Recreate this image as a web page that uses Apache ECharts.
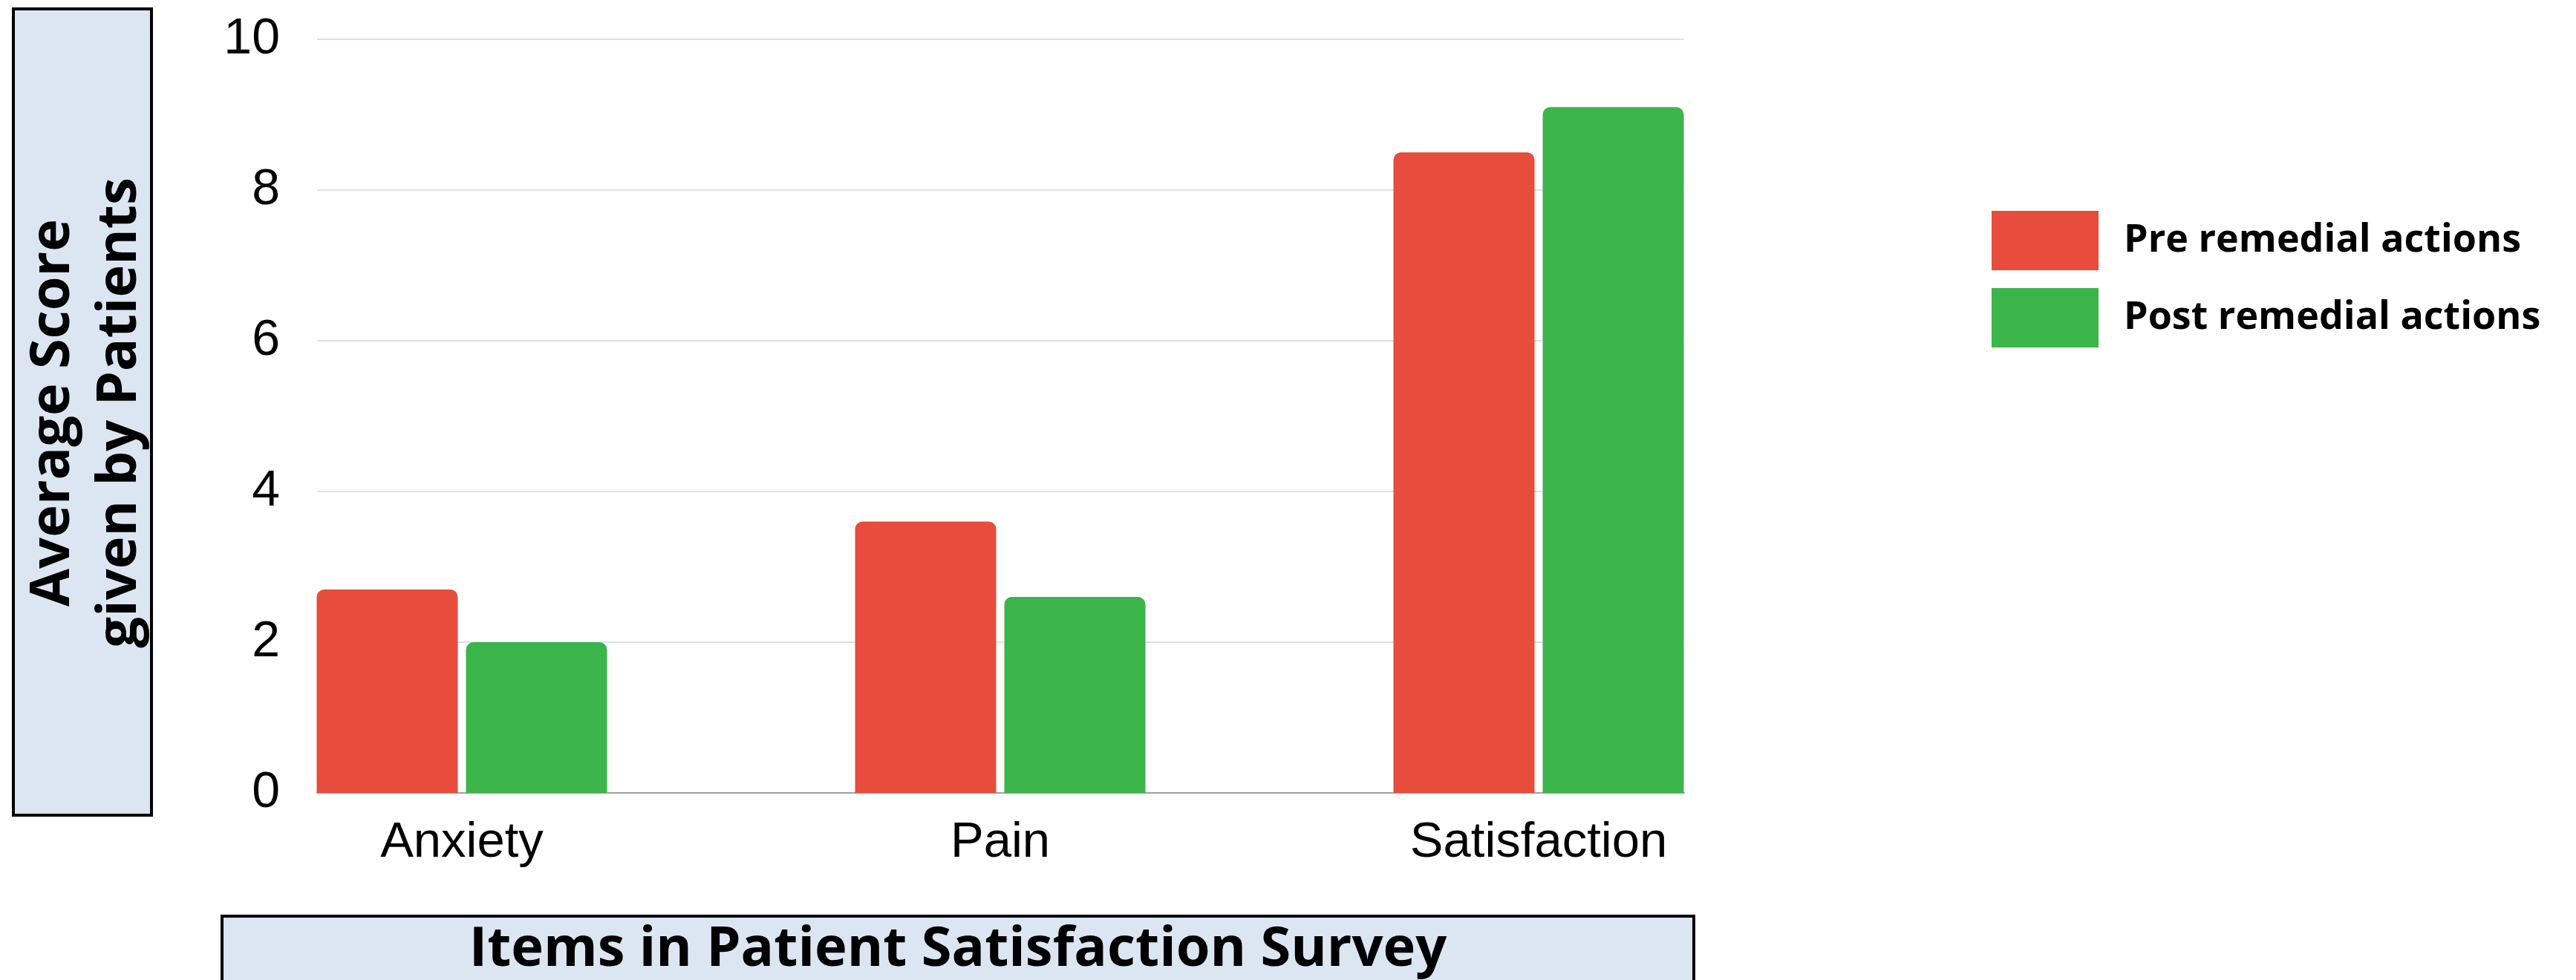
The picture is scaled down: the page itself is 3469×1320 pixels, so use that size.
<!DOCTYPE html>
<html>
<head>
<meta charset="utf-8">
<script src="https://cdn.jsdelivr.net/npm/echarts@6/dist/echarts.min.js"></script>
<style>
    html, body { margin: 0; padding: 0; background: #fff; }
    #chart { width: 3469px; height: 1320px; }
</style>
</head>
<body>
<div id="chart"></div>
<script>
// survey items and average scores
var categories = ['Anxiety', 'Pain', 'Satisfaction'];
var preValues = [2.7, 3.6, 8.5];
var postValues = [2.0, 2.6, 9.1];
var seriesNames = ['Pre remedial actions', 'Post remedial actions'];

var colors = ['#e74c3c', '#3bb54a'];
var boxFill = '#dce6f2';

var chart = echarts.init(document.getElementById('chart'));

var option = {
    animation: false,
    color: colors,
    // grid 0 = frame with split lines, grid 1 = bars
    grid: [
        { left: 427, right: 1201, top: 53, bottom: 252 },
        { left: 259.5, right: 1034.5, top: 53, bottom: 252 }
    ],
    legend: {
        orient: 'vertical',
        left: 2677,
        top: 279,
        itemWidth: 144,
        itemHeight: 80,
        itemGap: 24,
        icon: 'path://M0,0H144V80H0Z',
        textStyle: {
            fontFamily: 'Open Sans',
            fontWeight: 'bold',
            fontSize: 52,
            color: '#000',
            padding: [0, 0, 0, 29]
        },
        data: seriesNames
    },
    xAxis: [
        {
            gridIndex: 0,
            type: 'value',
            min: 0,
            max: 1,
            axisLine: { show: true, lineStyle: { color: '#a0a0a0', width: 2 } },
            axisTick: { show: false },
            axisLabel: { show: false },
            splitLine: { show: false }
        },
        {
            gridIndex: 1,
            type: 'category',
            data: categories,
            axisLine: { show: false },
            axisTick: { show: false },
            axisLabel: {
                margin: 34,
                fontFamily: 'Liberation Sans',
                fontSize: 67,
                color: '#000'
            }
        }
    ],
    yAxis: [
        {
            gridIndex: 0,
            type: 'value',
            min: 0,
            max: 10,
            interval: 2,
            axisLine: { show: false },
            axisTick: { show: false },
            axisLabel: {
                margin: 50,
                fontFamily: 'Liberation Sans',
                fontSize: 68,
                color: '#000'
            },
            splitLine: { lineStyle: { color: '#e0e0e0', width: 2 } }
        },
        {
            gridIndex: 1,
            type: 'value',
            min: 0,
            max: 10,
            show: false,
            splitLine: { show: false }
        }
    ],
    series: [
        {
            name: seriesNames[0],
            type: 'bar',
            xAxisIndex: 1,
            yAxisIndex: 1,
            barWidth: 190,
            barGap: '5.8%',
            itemStyle: { borderRadius: [10, 10, 0, 0] },
            data: preValues
        },
        {
            name: seriesNames[1],
            type: 'bar',
            xAxisIndex: 1,
            yAxisIndex: 1,
            barWidth: 190,
            barGap: '5.8%',
            itemStyle: { borderRadius: [10, 10, 0, 0] },
            data: postValues
        }
    ],
    graphic: [
        // y axis title box
        {
            type: 'rect',
            shape: { x: 18, y: 12, width: 186, height: 1086 },
            style: { fill: boxFill, stroke: '#000', lineWidth: 4 }
        },
        {
            type: 'text',
            x: 117,
            y: 556,
            rotation: Math.PI / 2,
            style: {
                text: 'Average Score\ngiven by Patients',
                font: 'bold 74px "Open Sans"',
                fill: '#000',
                align: 'center',
                verticalAlign: 'middle',
                lineHeight: 90
            }
        },
        // x axis title box
        {
            type: 'rect',
            shape: { x: 299, y: 1234, width: 1982, height: 120 },
            style: { fill: boxFill, stroke: '#000', lineWidth: 4 }
        },
        {
            type: 'text',
            x: 1290,
            y: 1280,
            style: {
                text: 'Items in Patient Satisfaction Survey',
                font: 'bold 74px "Open Sans"',
                fill: '#000',
                align: 'center',
                verticalAlign: 'middle'
            }
        }
    ]
};

chart.setOption(option);
</script>
</body>
</html>
